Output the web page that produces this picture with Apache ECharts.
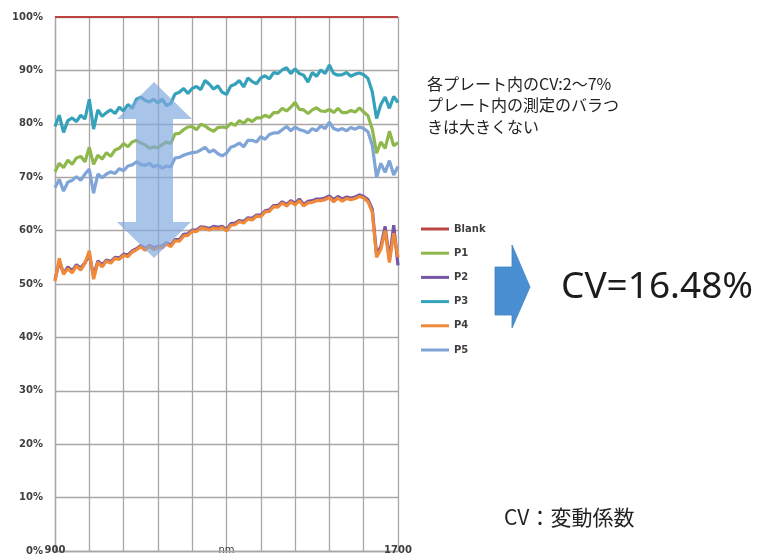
<!DOCTYPE html>
<html>
<head>
<meta charset="utf-8">
<script src="https://cdn.jsdelivr.net/npm/echarts@6/dist/echarts.min.js"></script>
<style>
  html, body { margin: 0; padding: 0; background: #ffffff; }
  #chart { width: 768px; height: 555px; }
</style>
</head>
<body>
<div id="chart"></div>
<script>
// Wavelength (nm), 10 nm steps
const wavelengths = [
  900, 910, 920, 930, 940, 950, 960, 970, 980, 990,
  1000, 1010, 1020, 1030, 1040, 1050, 1060, 1070, 1080, 1090,
  1100, 1110, 1120, 1130, 1140, 1150, 1160, 1170, 1180, 1190,
  1200, 1210, 1220, 1230, 1240, 1250, 1260, 1270, 1280, 1290,
  1300, 1310, 1320, 1330, 1340, 1350, 1360, 1370, 1380, 1390,
  1400, 1410, 1420, 1430, 1440, 1450, 1460, 1470, 1480, 1490,
  1500, 1510, 1520, 1530, 1540, 1550, 1560, 1570, 1580, 1590,
  1600, 1610, 1620, 1630, 1640, 1650, 1660, 1670, 1680, 1690,
  1700
];

// Percentage readings per plate
const blank = [
  100, 100, 100, 100, 100, 100, 100, 100, 100, 100,
  100, 100, 100, 100, 100, 100, 100, 100, 100, 100,
  100, 100, 100, 100, 100, 100, 100, 100, 100, 100,
  100, 100, 100, 100, 100, 100, 100, 100, 100, 100,
  100, 100, 100, 100, 100, 100, 100, 100, 100, 100,
  100, 100, 100, 100, 100, 100, 100, 100, 100, 100,
  100, 100, 100, 100, 100, 100, 100, 100, 100, 100,
  100, 100, 100, 100, 100, 100, 100, 100, 100, 100,
  100
];

const p1 = [
  71.0, 72.6, 71.8, 73.2, 72.4, 73.6, 73.9, 72.9, 75.6, 72.4,
  74.1, 73.4, 74.6, 73.9, 75.1, 75.4, 76.3, 75.7, 76.6, 76.9,
  76.4, 76.1, 75.4, 75.7, 75.5, 76.1, 76.6, 76.3, 78.1, 78.2,
  78.9, 79.4, 79.5, 78.9, 79.9, 79.6, 79.0, 78.6, 79.3, 79.4,
  79.3, 80.1, 79.7, 80.6, 80.1, 80.9, 80.4, 81.1, 81.1, 81.6,
  81.2, 82.1, 82.1, 82.9, 82.4, 83.1, 84.0, 82.7, 82.6, 81.9,
  82.6, 83.0, 82.4, 82.3, 82.7, 82.1, 82.9, 82.1, 82.1, 82.5,
  82.2, 83.0, 82.2, 81.5, 79.0, 74.5, 76.6, 75.4, 78.6, 75.9,
  76.5
];

const p2 = [
  50.8, 54.2, 52.0, 53.2, 52.5, 53.6, 53.0, 54.0, 55.5, 51.5,
  54.3, 53.6, 54.5, 54.2, 55.0, 54.9, 55.6, 55.4, 56.2, 56.6,
  57.2, 56.6, 57.2, 56.8, 57.0, 57.1, 57.7, 57.3, 58.3, 58.3,
  59.3, 59.4, 60.1, 60.1, 60.7, 60.6, 60.4, 60.8, 60.6, 60.8,
  60.2, 61.3, 61.4, 61.9, 61.7, 62.4, 62.3, 62.9, 62.9, 63.7,
  63.9, 64.7, 64.7, 65.4, 64.9, 65.6, 65.1, 65.9, 64.9, 65.5,
  65.6, 65.9, 65.9, 66.1, 66.5, 65.8, 66.4, 65.9, 66.3, 66.1,
  66.3, 66.7, 66.4, 65.8, 64.0, 55.5, 57.0, 60.8, 54.5, 61.0,
  53.5
];

const p3 = [
  79.5, 81.6, 78.4, 80.6, 81.1, 80.4, 81.6, 80.9, 84.6, 79.0,
  82.6, 81.4, 82.1, 82.6, 81.9, 83.1, 82.4, 83.6, 82.9, 84.6,
  85.0, 84.4, 84.1, 84.6, 83.9, 84.6, 83.4, 83.8, 85.6, 85.9,
  86.6, 85.7, 86.6, 87.0, 86.4, 88.1, 87.4, 86.5, 87.1, 85.9,
  85.5, 87.1, 87.4, 88.1, 86.9, 88.6, 87.9, 87.5, 88.6, 89.0,
  88.4, 89.6, 89.4, 90.1, 90.5, 89.4, 90.3, 89.4, 89.1, 87.8,
  89.6, 88.9, 90.1, 89.4, 91.0, 89.4, 89.1, 89.2, 89.6, 88.9,
  89.3, 89.5, 89.2, 88.5, 86.0, 81.0, 83.6, 85.0, 82.9, 85.1,
  84.0
];

const p4 = [
  50.5, 54.8, 51.8, 52.9, 52.1, 53.4, 52.6, 53.9, 56.2, 50.9,
  54.1, 53.2, 54.3, 53.9, 54.8, 54.6, 55.4, 55.1, 56.0, 56.4,
  57.0, 56.3, 57.1, 56.4, 56.9, 56.8, 57.5, 57.0, 58.1, 58.0,
  59.0, 59.1, 59.9, 59.8, 60.5, 60.4, 60.1, 60.5, 60.3, 60.6,
  59.9, 61.0, 61.1, 61.7, 61.4, 62.2, 62.0, 62.7, 62.6, 63.5,
  63.6, 64.5, 64.4, 65.2, 64.6, 65.4, 64.8, 65.6, 64.6, 65.2,
  65.3, 65.6, 65.6, 65.8, 66.2, 65.4, 66.1, 65.5, 66.0, 65.8,
  66.0, 66.4, 66.1, 65.4, 63.5, 55.0, 56.5, 60.0, 54.0, 59.5,
  55.0
];

const p5 = [
  68.0, 69.6, 67.4, 69.1, 69.4, 70.1, 69.4, 70.6, 71.5, 67.0,
  70.6, 69.9, 70.6, 71.0, 70.7, 71.6, 71.2, 72.1, 72.3, 72.9,
  72.4, 72.2, 72.6, 71.9, 72.3, 71.7, 72.1, 71.9, 73.6, 73.7,
  74.1, 74.4, 74.6, 74.7, 75.1, 75.6, 74.7, 75.1, 74.4, 74.0,
  74.5, 75.6, 75.9, 76.4, 75.7, 76.9, 76.9, 76.6, 77.6, 77.1,
  78.0, 78.3, 78.3, 78.9, 79.5, 78.7, 79.4, 78.9, 78.7, 78.3,
  79.1, 78.7, 79.6, 79.1, 80.3, 79.1, 78.8, 79.1, 78.7, 79.3,
  79.0, 79.4, 79.1, 78.5, 76.0, 70.0, 72.6, 70.9, 73.1, 70.4,
  72.0
];

const seriesNames = ['Blank', 'P1', 'P2', 'P3', 'P4', 'P5'];
const seriesData = [blank, p1, p2, p3, p4, p5];
const seriesColors = ['#bb4542', '#8fb84c', '#7657a6', '#35a2bb', '#f0893a', '#7ea4d8'];

// Callout text
const noteLines = ['各プレート内のCV:2～7%', 'プレート内の測定のバラつ', 'きは大きくない'];
const resultText = 'CV=16.48%';
const footnoteText = 'CV：変動係数';

const chart = echarts.init(document.getElementById('chart'), null, { renderer: 'canvas' });

const gridColor = '#aaa6a5';
const axisFont = { fontFamily: 'DejaVu Sans', fontSize: 10, fontWeight: 'bold', color: '#3f3f3f' };

const option = {
  animation: false,
  backgroundColor: '#ffffff',
  grid: {
    left: 55, right: 370, top: 17, bottom: 4,
    containLabel: false,
    outerBoundsMode: 'none'
  },
  legend: {
    orient: 'vertical',
    left: 416,
    top: 217,
    itemWidth: 28,
    itemHeight: 3,
    itemGap: 10.2,
    icon: 'rect',
    selectedMode: false,
    data: seriesNames,
    textStyle: {
      fontFamily: 'DejaVu Sans', fontSize: 10, fontWeight: 'bold', color: '#3f3f3f',
      lineHeight: 14
    }
  },
  xAxis: {
    type: 'category',
    data: wavelengths.map(String),
    boundaryGap: false,
    name: 'nm',
    nameLocation: 'middle',
    nameGap: -6,
    nameMoveOverlap: false,
    nameTextStyle: { fontFamily: 'DejaVu Sans', fontSize: 10, color: '#3f3f3f' },
    axisLine: { show: true, lineStyle: { color: gridColor, width: 1.3 } },
    axisTick: { show: false },
    axisLabel: Object.assign({
      margin: -6,
      interval: function (index) { return index === 0 || index === wavelengths.length - 1; }
    }, axisFont),
    splitLine: {
      show: true,
      interval: function (index) { return index % 8 === 0; },
      lineStyle: { color: gridColor, width: 1.3 }
    }
  },
  yAxis: {
    type: 'value',
    min: 0,
    max: 100,
    interval: 10,
    axisLine: { show: true, lineStyle: { color: gridColor, width: 1.3 } },
    axisTick: { show: false },
    axisLabel: Object.assign({ margin: 12, formatter: '{value}%' }, axisFont),
    splitLine: { show: true, lineStyle: { color: gridColor, width: 1.3 } }
  },
  series: seriesNames.map(function (name, i) {
    return {
      name: name,
      type: 'line',
      data: seriesData[i],
      showSymbol: false,
      symbol: 'none',
      color: seriesColors[i],
      lineStyle: { width: i === 0 ? 2 : 3.2, color: seriesColors[i] },
      z: 2 + i
    };
  }),
  graphic: [
    {
      // vertical double-headed spread arrow
      type: 'polygon',
      z: 100,
      shape: {
        points: [
          [154, 82], [192, 119], [173, 119], [173, 222], [191, 222],
          [154, 258], [117, 222], [136, 222], [136, 119], [117, 119]
        ]
      },
      style: { fill: 'rgba(128, 168, 222, 0.68)' }
    },
    {
      // block arrow pointing to the result
      type: 'polygon',
      z: 100,
      shape: {
        points: [
          [495, 267], [512, 267], [512, 245], [530, 287],
          [512, 328], [512, 315], [495, 315]
        ]
      },
      style: { fill: '#4b8fd3', stroke: '#3f80c2', lineWidth: 0.8 }
    },
    {
      type: 'text',
      z: 100,
      x: 427,
      y: 73,
      style: {
        text: noteLines.join('\n'),
        font: '16px "Noto Sans CJK JP"',
        lineHeight: 21.5,
        fill: '#222222',
        verticalAlign: 'top'
      }
    },
    {
      type: 'text',
      z: 100,
      x: 561,
      y: 287,
      style: {
        text: resultText,
        font: '37px "Noto Sans"',
        fill: '#1c1c1c',
        verticalAlign: 'middle'
      }
    },
    {
      type: 'text',
      z: 100,
      x: 504,
      y: 517,
      style: {
        text: footnoteText,
        font: '21px "Noto Sans CJK JP"',
        fill: '#222222',
        verticalAlign: 'middle'
      }
    }
  ]
};

chart.setOption(option);
</script>
</body>
</html>
